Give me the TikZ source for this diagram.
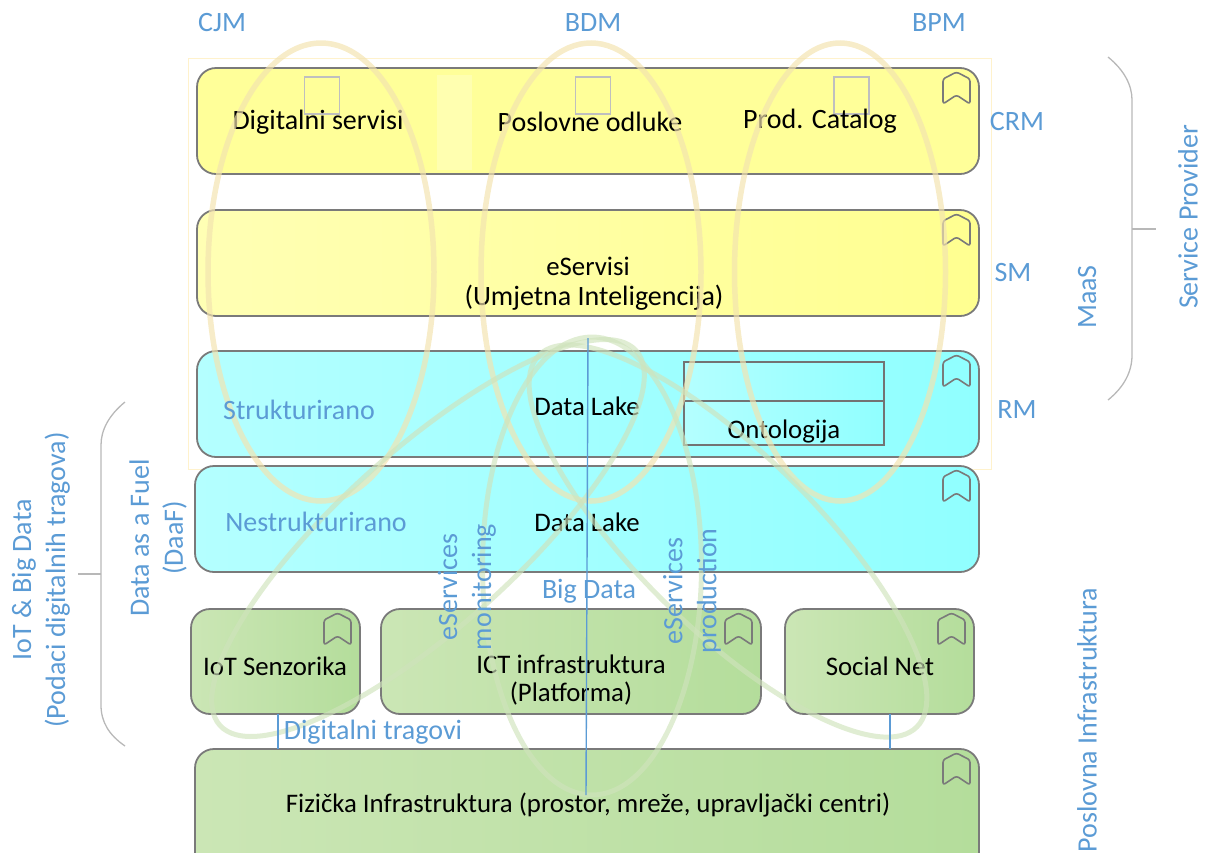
\documentclass[tikz,border=0pt]{standalone}
\usepackage{fontspec}
\setmainfont{Carlito}
\usetikzlibrary{shapes.geometric}
\definecolor{lblue}{HTML}{5B9BD5}
\definecolor{frameY}{HTML}{FFF2CC}
\definecolor{ellY}{HTML}{F3E3B0}
\definecolor{ellG}{HTML}{CFE3BC}
\definecolor{cgreenL}{HTML}{CBE6B5}
\definecolor{cgreenR}{HTML}{B4DD9B}
\definecolor{ymA}{HTML}{FFFFB4}
\definecolor{ymB}{HTML}{FFFF90}
\definecolor{ymC}{HTML}{FFFF99}
\definecolor{ymS}{HTML}{FFFFB0}
\definecolor{cyA}{HTML}{B4FFFF}
\definecolor{cyB}{HTML}{90FFFF}
\tikzset{
  x=1pt,y=-1pt,
  layer/.style={draw=black!52,line width=1.8pt,rounded corners=19pt,inner sep=0pt},
  greenbox/.style={layer,left color=cgreenL,right color=cgreenR},
  txt/.style={font=\fontsize{28}{30}\selectfont,text=black,inner sep=0pt,align=center},
  stxt/.style={font=\fontsize{26.8}{28}\selectfont,text=black,inner sep=0pt,align=center},
  blab/.style={font=\fontsize{28}{34}\selectfont,text=lblue,inner sep=0pt,align=center},
  blue line/.style={draw=lblue,line width=1.4pt},
  brace line/.style={draw=black!28,line width=1.3pt},
  tinysq/.style={draw=black!25,line width=1.3pt,fill=none,minimum width=35pt,minimum height=37pt,inner sep=0pt},
  mark icon/.style={draw=black!52,line width=1.6pt,line join=round,rounded corners=2.5pt},
  yellowell/.style={draw=ellY,draw opacity=.68,line width=5.5pt,ellipse,inner sep=0pt},
  greenell/.style={draw=ellG,draw opacity=.65,line width=5pt,ellipse,inner sep=0pt},
}
\newcommand{\bkm}[2]{% anchor: right edge x, top y
  \draw[mark icon] (#1-36,#2+36) -- (#1-36,#2+11) -- (#1-22.5,#2+4) -- (#1-9,#2+11) -- (#1-9,#2+36) -- (#1-22.5,#2+27) -- cycle;}
\begin{document}
\begin{tikzpicture}
\useasboundingbox (0,0) rectangle (1206,852);
\clip (0,0) rectangle (1206,852);
% frame
\node[draw=frameY,line width=1pt,minimum width=803pt,minimum height=411pt,inner sep=0pt] (frame) at (589.5,263.5) {};
% layers
\node[layer,left color=ymC,right color=ymC,minimum width=782pt,minimum height=106pt] (crm) at (588,121) {};
\fill[ymS] (437,75) rectangle (472,170);
\node[layer,left color=ymA,right color=ymB,minimum width=782pt,minimum height=106pt] (sm) at (588,263) {};
\node[layer,left color=cyA,right color=cyB,minimum width=782pt,minimum height=106pt] (rm) at (588,404) {};
\node[layer,left color=cyA,right color=cyB,minimum width=784pt,minimum height=106pt] (un) at (587,519) {};
\node[greenbox,minimum width=169pt,minimum height=105pt] (iot) at (275.5,661.5) {};
\node[greenbox,minimum width=380pt,minimum height=105pt] (ict) at (571,661.5) {};
\node[greenbox,minimum width=189pt,minimum height=105pt] (soc) at (879.5,661.5) {};
\node[greenbox,minimum width=784pt,minimum height=125pt] (fiz) at (587,811.5) {};
% ontology box
\node[draw=black!55,line width=1.6pt,left color=cyA,right color=cyB,minimum width=200pt,minimum height=83pt,inner sep=0pt] (ont) at (784,403.5) {};
\coordinate (ontL) at (684,401);
\coordinate (ontR) at (884,401);
\draw[draw=black!55,line width=1.6pt] (ontL) -- (ontR);
% small squares
\node[tinysq] (s1) at (322,95.5) {};
\node[tinysq] (s2) at (593,95.5) {};
\node[tinysq] (s3) at (851.5,95.5) {};
% bookmark icons
\bkm{979}{68}
\bkm{979}{210}
\bkm{979}{351}
\bkm{979}{466}
\bkm{360}{609}
\bkm{761}{609}
\bkm{974}{609}
\bkm{979}{749}
% black text
\node[txt] (t1) at (318,122) {Digitalni servisi};
\node[txt] (t2) at (590,122) {Poslovne odluke};
\node[txt] (t3) at (820,121) {Prod. Catalog};
\node[stxt] (t4) at (588,266) {eServisi};
\node[txt] (t5) at (594,298) {(Umjetna Inteligencija)};
\node[stxt] (t6) at (587,406) {Data Lake};
\node[stxt] (t7) at (587,522) {Data Lake};
\node[stxt] (t8) at (784,431) {Ontologija};
\node[stxt] (t9) at (275,666) {IoT Senzorika};
\node[stxt,align=center] (t10) at (571,680) {ICT infrastruktura\\(Platforma)};
\node[stxt] (t11) at (880,666) {Social Net};
\node[stxt] (t12) at (588,805) {Fizička Infrastruktura (prostor, mreže, upravljački centri)};
% ellipses
\node[yellowell,minimum width=226pt,minimum height=458pt] (e1) at (321,272) {};
\node[yellowell,minimum width=220pt,minimum height=458pt] (e2) at (591,272) {};
\node[yellowell,minimum width=211pt,minimum height=458pt] (e3) at (840,272) {};
\node[greenell,minimum width=219pt,minimum height=458pt] (g1) at (592,566) {};
\node[greenell,minimum width=560pt,minimum height=176pt,rotate=42] (g2) at (428,538) {};
\node[greenell,minimum width=530pt,minimum height=176pt,rotate=-44.5] (g3) at (728,541) {};
% blue connectors
\coordinate (v1) at (588,338);
\coordinate (v2) at (586,795);
\draw[blue line] (v1) -- (v2);
\coordinate (a1) at (278,714);
\coordinate (a2) at (278,749);
\draw[blue line] (a1) -- (a2);
\coordinate (b1) at (890,714);
\coordinate (b2) at (890,749);
\draw[blue line] (b1) -- (b2);
% braces
\coordinate (r1) at (1108,57);
\coordinate (r2) at (1132,100);
\coordinate (r3) at (1132,355);
\coordinate (r4) at (1108,400);
\coordinate (r5) at (1132,229);
\coordinate (r6) at (1156,229);
\draw[brace line] (r1) .. controls (1124,70) and (1132,85) .. (r2) -- (r3) .. controls (1132,372) and (1124,387) .. (r4);
\draw[brace line] (r5) -- (r6);
\coordinate (l1) at (125,402);
\coordinate (l2) at (101,445);
\coordinate (l3) at (101,705);
\coordinate (l4) at (125,746);
\coordinate (l5) at (101,574);
\coordinate (l6) at (78,574);
\draw[brace line] (l1) .. controls (109,415) and (101,430) .. (l2) -- (l3) .. controls (101,722) and (109,735) .. (l4);
\draw[brace line] (l5) -- (l6);
% blue labels
\node[blab] (c1) at (222,23) {CJM};
\node[blab] (c2) at (593,23) {BDM};
\node[blab] (c3) at (939,23) {BPM};
\node[blab] (d1) at (1017,122) {CRM};
\node[blab] (d2) at (1013,273) {SM};
\node[blab] (d3) at (1017,410) {RM};
\node[blab,rotate=90] (d4) at (1087,297) {MaaS};
\node[blab,rotate=90] (d5) at (1188,217) {Service Provider};
\node[blab,rotate=90] (d6) at (1087,720) {Poslovna Infrastruktura};
\node[blab,rotate=90] (d7) at (41,580) {IoT \& Big Data\\(Podaci digitalnih tragova)};
\node[blab,rotate=90] (d8) at (158,538) {Data as a Fuel\\(DaaF)};
\node[blab] (d9) at (299,410) {Strukturirano};
\node[blab] (d10) at (316,522) {Nestrukturirano};
\node[blab] (d11) at (589,591) {Big Data};
\node[blab] (d12) at (373,732) {Digitalni tragovi};
\node[blab,rotate=90] (d13) at (467,587) {eServices\\monitoring};
\node[blab,rotate=90] (d14) at (692,591) {eServices\\production};
\end{tikzpicture}
\end{document}
